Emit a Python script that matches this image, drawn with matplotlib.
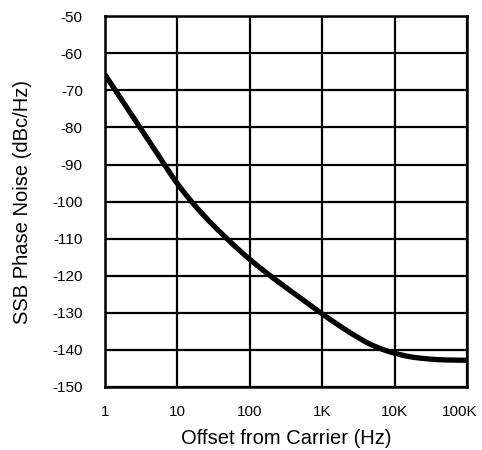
import numpy as np
import matplotlib
matplotlib.use('Agg')
import matplotlib.pyplot as plt
import matplotlib.transforms as mtrans
from matplotlib.ticker import FixedLocator, NullLocator

# values
freq = [1, 2, 3, 5, 10, 20, 50, 100, 200, 500, 1e3, 2e3, 2.8e3, 5e3, 1e4, 2e4, 5e4, 1e5]
noise = [-65.8, -74.7, -79.9, -86.4, -95.2, -102.4, -110.3, -115.6, -120.3, -126.0,
         -130.3, -134.3, -136.1, -138.8, -140.9, -142.1, -142.7, -142.8]

xticks = [1, 10, 100, 1e3, 1e4, 1e5]
xticklabels = ['1', '10', '100', '1K', '10K', '100K']
yticks = list(range(-150, -40, 10))


def pchip(x, y, xn):
    # monotone cubic so the curve has no kinks
    x = np.asarray(x, float)
    y = np.asarray(y, float)
    h = np.diff(x)
    d = np.diff(y) / h
    m = np.zeros_like(y)
    for i in range(1, len(x) - 1):
        if d[i - 1] * d[i] > 0:
            w1 = 2 * h[i] + h[i - 1]
            w2 = h[i] + 2 * h[i - 1]
            m[i] = (w1 + w2) / (w1 / d[i - 1] + w2 / d[i])
    m[0] = d[0]
    m[-1] = d[-1]
    k = np.clip(np.searchsorted(x, xn) - 1, 0, len(h) - 1)
    t = (xn - x[k]) / h[k]
    h00 = 2 * t**3 - 3 * t**2 + 1
    h10 = t**3 - 2 * t**2 + t
    h01 = -2 * t**3 + 3 * t**2
    h11 = t**3 - t**2
    return h00 * y[k] + h10 * h[k] * m[k] + h01 * y[k + 1] + h11 * h[k] * m[k + 1]


plt.rcParams['font.family'] = ['Liberation Sans', 'DejaVu Sans']
plt.rcParams['axes.unicode_minus'] = False

fig = plt.figure(figsize=(4.82, 4.5), dpi=100)
ax = fig.add_axes([0.218, 0.14, 0.751, 0.824])

lf = np.log10(freq)
fine = np.linspace(lf[0], lf[-1], 500)
ax.plot(10**fine, pchip(lf, noise, fine), color='black', lw=3.8,
        solid_capstyle='butt', zorder=3)

ax.set_xscale('log')
ax.set_xlim(1, 1e5)
ax.set_ylim(-150, -50)
ax.xaxis.set_major_locator(FixedLocator(xticks))
ax.xaxis.set_minor_locator(NullLocator())
ax.set_xticklabels(xticklabels)
ax.set_yticks(yticks)
ax.grid(True, color='black', lw=1.6)
ax.tick_params(length=0, labelsize=11, pad=13)
ax.tick_params(axis='y', pad=16)
for s in ax.spines.values():
    s.set_linewidth(1.8)

# last x label sits a little left of its gridline, as in the original
last = ax.get_xticklabels()[-1]
last.set_transform(last.get_transform() +
                   mtrans.ScaledTranslation(-5 / 72, 0, fig.dpi_scale_trans))

ax.set_xlabel('Offset from Carrier (Hz)', fontsize=14.5, labelpad=7)
ax.set_ylabel('SSB Phase Noise (dBc/Hz)', fontsize=14.5, labelpad=15)

fig.savefig('out.png', dpi=100)
